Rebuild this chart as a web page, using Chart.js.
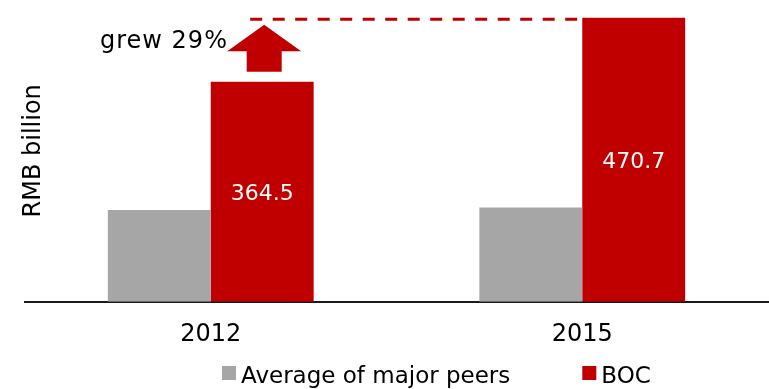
<!DOCTYPE html>
<html>
<head>
<meta charset="utf-8">
<title>BOC vs major peers</title>
<script src="https://cdn.jsdelivr.net/npm/chart.js@4.4.1/dist/chart.umd.min.js"></script>
<style>
  html, body { margin: 0; padding: 0; background: #ffffff; }
  canvas { display: block; }
</style>
</head>
<body>
<canvas id="chart" width="769" height="389"></canvas>
<script>
// Categories and series (RMB billion)
const years = ['2012', '2015'];
const peersAvg = [152, 156];
const bocValues = [364.5, 470.7];
const seriesNames = ['Average of major peers', 'BOC'];
const seriesColors = ['#A6A6A6', '#C00000'];
const axisTitle = 'RMB billion';

const FONT = '"DejaVu Sans", "Liberation Sans", sans-serif';

// Growth of BOC between the two years, shown next to the arrow
const growthPct = Math.round((bocValues[1] / bocValues[0] - 1) * 100);
const growthText = 'grew ' + growthPct + '%';

// White value labels in the middle of the BOC bars
const valueLabels = {
  id: 'valueLabels',
  afterDatasetsDraw(chart) {
    const ctx = chart.ctx;
    const meta = chart.getDatasetMeta(1);
    ctx.save();
    ctx.fillStyle = '#ffffff';
    ctx.font = '22px ' + FONT;
    ctx.textAlign = 'center';
    ctx.textBaseline = 'alphabetic';
    meta.data.forEach((bar, i) => {
      const v = chart.data.datasets[1].data[i];
      const mid = (bar.y + bar.base) / 2;
      ctx.fillText(v.toFixed(1), bar.x, mid + 8);
    });
    ctx.restore();
  }
};

// Dashed reference line at the latest BOC level and the block arrow above 2012
const growthArrow = {
  id: 'growthArrow',
  afterDatasetsDraw(chart) {
    const ctx = chart.ctx;
    const bars = chart.getDatasetMeta(1).data;
    const first = bars[0];
    const last = bars[bars.length - 1];
    const lineY = last.y + 1.5;
    const ax = first.x + 2;

    ctx.save();
    ctx.strokeStyle = '#C00000';
    ctx.lineWidth = 3;
    ctx.setLineDash([12, 10.5]);
    ctx.beginPath();
    ctx.moveTo(ax - 14, lineY);
    ctx.lineTo(last.x - last.width / 2, lineY);
    ctx.stroke();
    ctx.setLineDash([]);

    const tipY = lineY + 5.5;
    const headY = lineY + 32;
    const bottomY = first.y - 10;
    const headHalf = 37;
    const shaftHalf = 17.5;
    ctx.fillStyle = '#C00000';
    ctx.beginPath();
    ctx.moveTo(ax, tipY);
    ctx.lineTo(ax + headHalf, headY);
    ctx.lineTo(ax + shaftHalf, headY);
    ctx.lineTo(ax + shaftHalf, bottomY);
    ctx.lineTo(ax - shaftHalf, bottomY);
    ctx.lineTo(ax - shaftHalf, headY);
    ctx.lineTo(ax - headHalf, headY);
    ctx.closePath();
    ctx.fill();

    ctx.fillStyle = '#000000';
    ctx.font = '24px ' + FONT;
    if ('letterSpacing' in ctx) ctx.letterSpacing = '1px';
    ctx.textAlign = 'left';
    ctx.textBaseline = 'alphabetic';
    ctx.fillText(growthText, 100, lineY + 29);
    ctx.restore();
  }
};

// Rotated unit title on the left and the legend row at the bottom
const frame = {
  id: 'frame',
  afterDraw(chart) {
    const ctx = chart.ctx;
    const area = chart.chartArea;
    ctx.save();
    ctx.fillStyle = '#000000';
    ctx.font = '24px ' + FONT;
    ctx.textAlign = 'center';
    ctx.textBaseline = 'alphabetic';
    ctx.translate(39.5, (area.top + area.bottom) / 2);
    ctx.rotate(-Math.PI / 2);
    ctx.fillText(axisTitle, 0, 0);
    ctx.restore();

    ctx.save();
    ctx.font = '23px ' + FONT;
    ctx.textAlign = 'left';
    ctx.textBaseline = 'alphabetic';
    const box = 14;
    const boxY = 366;
    const textY = 382.5;
    let x = 222;
    chart.data.datasets.forEach(ds => {
      ctx.fillStyle = ds.backgroundColor;
      ctx.fillRect(x, boxY, box, box);
      ctx.fillStyle = '#000000';
      const tx = x + box + 5;
      ctx.fillText(ds.label, tx, textY);
      x = tx + ctx.measureText(ds.label).width + 72;
    });
    ctx.restore();
  }
};

new Chart(document.getElementById('chart'), {
  type: 'bar',
  data: {
    labels: years,
    datasets: [
      { label: seriesNames[0], data: peersAvg, backgroundColor: seriesColors[0] },
      { label: seriesNames[1], data: bocValues, backgroundColor: seriesColors[1] }
    ]
  },
  options: {
    responsive: false,
    animation: false,
    devicePixelRatio: 1,
    layout: { padding: { left: 25, right: 1, top: 0, bottom: 20.5 } },
    datasets: { bar: { categoryPercentage: 0.554, barPercentage: 1.0 } },
    plugins: { legend: { display: false }, tooltip: { enabled: false } },
    scales: {
      x: {
        grid: { display: false, drawTicks: false },
        border: { display: true, color: '#1a1a1a', width: 2 },
        ticks: { color: '#000000', font: { family: FONT, size: 24 }, padding: 19 }
      },
      y: {
        display: false,
        min: 0,
        max: 500
      }
    }
  },
  plugins: [valueLabels, growthArrow, frame]
});
</script>
</body>
</html>
